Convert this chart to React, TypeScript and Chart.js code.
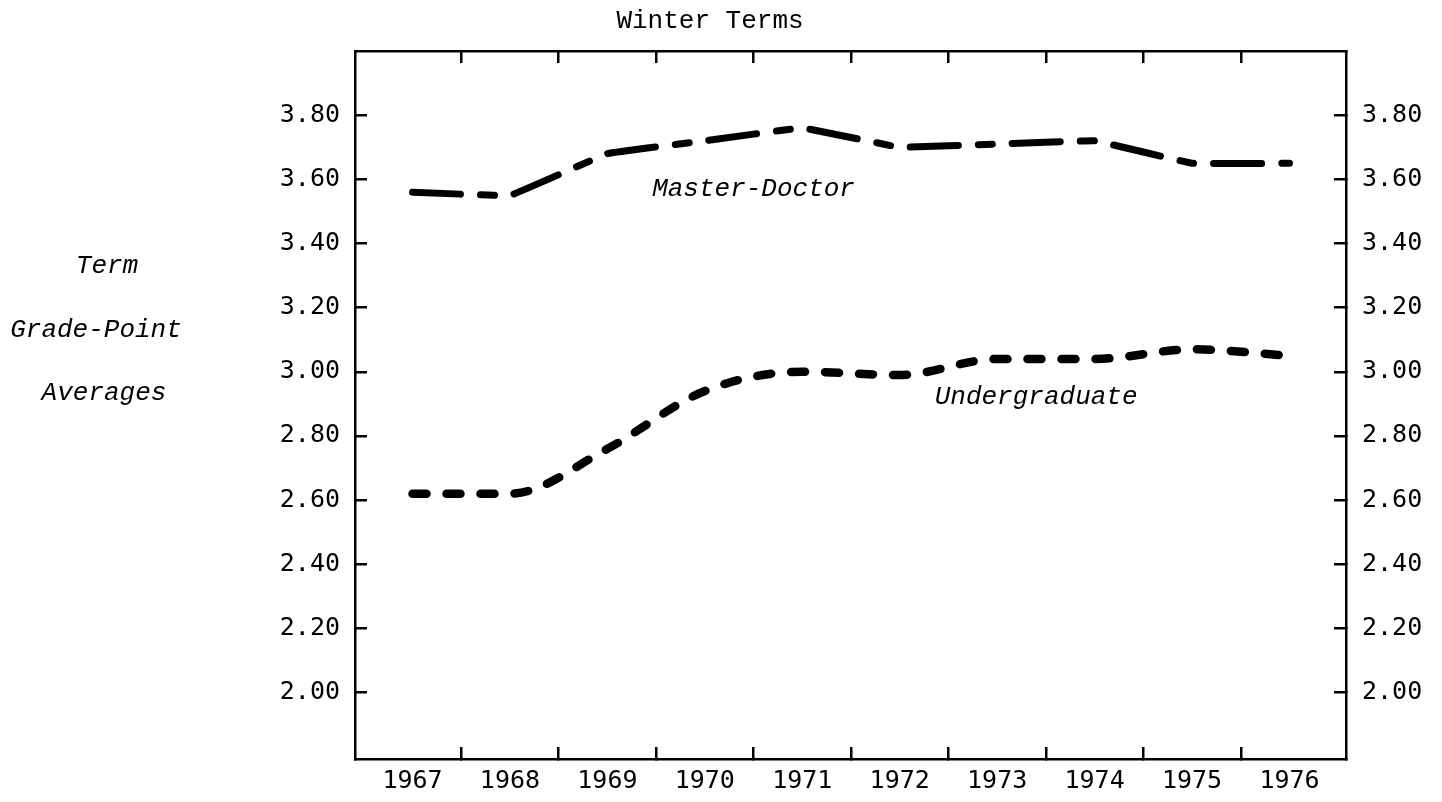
import React, { useEffect, useRef } from 'react';
import { Chart, registerables } from 'chart.js';

Chart.register(...registerables);

const YEARS = [1967, 1968, 1969, 1970, 1971, 1972, 1973, 1974, 1975, 1976];
const MASTER_DOCTOR = [3.56, 3.55, 3.68, 3.72, 3.76, 3.7, 3.71, 3.72, 3.65, 3.65];
const UNDERGRADUATE = [2.62, 2.62, 2.76, 2.94, 3.0, 2.99, 3.04, 3.04, 3.07, 3.05];
const Y_TICKS = [2.0, 2.2, 2.4, 2.6, 2.8, 3.0, 3.2, 3.4, 3.6, 3.8];
const X_DIVIDERS = [1967.5, 1968.5, 1969.5, 1970.5, 1971.5, 1972.5, 1973.5, 1974.5, 1975.5];
const TITLE = 'Winter Terms';
const Y_TITLE_LINES = ['Term', 'Grade-Point', 'Averages'];
const SERIES_NAMES = ['Master-Doctor', 'Undergraduate'];

const X_MIN = 1966.41;
const X_MAX = 1976.58;
const Y_MIN = 1.793;
const Y_MAX = 4.0;

const TICK_FONT = { family: '"DejaVu Sans Mono", monospace', size: 25 };
const TYPE_FONT = '26px "Liberation Mono", monospace';
const TYPE_ITALIC = 'italic 26px "Liberation Mono", monospace';

const isYear = (v: number) => Math.abs(v - Math.round(v)) < 1e-6;

const textPlugin = {
  id: 'typedText',
  afterDraw(chart: any) {
    const ctx = chart.ctx;
    const xs = chart.scales.x;
    const ys = chart.scales.y;
    ctx.save();
    ctx.fillStyle = '#000';
    ctx.textBaseline = 'alphabetic';
    ctx.textAlign = 'center';
    ctx.font = TYPE_FONT;
    ctx.fillText(TITLE, 710, 28);
    ctx.font = TYPE_ITALIC;
    const yTitleX = [107, 96, 104];
    const yTitleY = [273, 337, 400];
    Y_TITLE_LINES.forEach((t, i) => ctx.fillText(t, yTitleX[i], yTitleY[i]));
    ctx.fillText(SERIES_NAMES[0], xs.getPixelForValue(1970.5), ys.getPixelForValue(3.548));
    ctx.fillText(SERIES_NAMES[1], xs.getPixelForValue(1973.4), ys.getPixelForValue(2.9));
    ctx.restore();
  },
};

export default function App() {
  const ref = useRef<HTMLCanvasElement | null>(null);

  useEffect(() => {
    if (!ref.current) return;
    const gridCommon = {
      drawOnChartArea: false,
      drawTicks: true,
      tickLength: -12,
      lineWidth: 2.5,
    };
    const border = { display: true, color: '#000', width: 2.5 };
    const chart = new Chart(ref.current, {
      type: 'line',
      data: {
        datasets: [
          {
            label: SERIES_NAMES[0],
            data: YEARS.map((yr, i) => ({ x: yr, y: MASTER_DOCTOR[i] })),
            borderColor: '#000',
            borderWidth: 7,
            borderDash: [48, 20, 14, 20],
            borderCapStyle: 'round',
            borderJoinStyle: 'round',
            tension: 0.05,
            pointRadius: 0,
            fill: false,
            xAxisID: 'x',
            yAxisID: 'y',
          },
          {
            label: SERIES_NAMES[1],
            data: YEARS.map((yr, i) => ({ x: yr, y: UNDERGRADUATE[i] })),
            borderColor: '#000',
            borderWidth: 8.5,
            borderDash: [14, 20],
            borderCapStyle: 'round',
            borderJoinStyle: 'round',
            cubicInterpolationMode: 'monotone',
            pointRadius: 0,
            fill: false,
            xAxisID: 'x',
            yAxisID: 'y',
          },
        ],
      },
      options: {
        animation: false,
        responsive: false,
        devicePixelRatio: 1,
        layout: { padding: 0 },
        plugins: {
          legend: { display: false },
          tooltip: { enabled: false },
          title: { display: false },
        },
        scales: {
          x: {
            type: 'linear',
            position: 'bottom',
            min: X_MIN,
            max: X_MAX,
            afterBuildTicks: (s: any) => {
              s.ticks = [...YEARS, ...X_DIVIDERS].sort((a, b) => a - b).map((v) => ({ value: v }));
            },
            afterFit: (s: any) => {
              s.height = 38;
            },
            grid: {
              ...gridCommon,
              color: (c: any) => (c.tick && isYear(c.tick.value) ? 'rgba(0,0,0,0)' : '#000'),
            },
            border,
            ticks: {
              autoSkip: false,
              maxRotation: 0,
              minRotation: 0,
              padding: 19,
              color: '#000',
              font: TICK_FONT,
              callback: (v: any) => (isYear(Number(v)) ? String(Math.round(Number(v))) : ''),
            },
          },
          x2: {
            type: 'linear',
            position: 'top',
            min: X_MIN,
            max: X_MAX,
            afterBuildTicks: (s: any) => {
              s.ticks = X_DIVIDERS.map((v) => ({ value: v }));
            },
            afterFit: (s: any) => {
              s.height = 51;
            },
            grid: { ...gridCommon, color: '#000' },
            border,
            ticks: { autoSkip: false, maxRotation: 0, callback: () => '' },
          },
          y: {
            type: 'linear',
            position: 'left',
            min: Y_MIN,
            max: Y_MAX,
            afterBuildTicks: (s: any) => {
              s.ticks = Y_TICKS.map((v) => ({ value: v }));
            },
            afterFit: (s: any) => {
              s.width = 355;
            },
            grid: { ...gridCommon, color: '#000' },
            border,
            ticks: {
              padding: 27,
              color: '#000',
              font: TICK_FONT,
              callback: (v: any) => Number(v).toFixed(2),
            },
          },
          y2: {
            type: 'linear',
            position: 'right',
            min: Y_MIN,
            max: Y_MAX,
            afterBuildTicks: (s: any) => {
              s.ticks = Y_TICKS.map((v) => ({ value: v }));
            },
            afterFit: (s: any) => {
              s.width = 96;
            },
            grid: { ...gridCommon, color: '#000' },
            border,
            ticks: {
              padding: 28,
              color: '#000',
              font: TICK_FONT,
              callback: (v: any) => Number(v).toFixed(2),
            },
          },
        },
      } as any,
      plugins: [textPlugin],
    });
    return () => chart.destroy();
  }, []);

  return (
    <div style={{ position: 'absolute', left: 0, top: 0, width: 1442, height: 802, background: '#fff' }}>
      <canvas ref={ref} width={1442} height={802} style={{ width: 1442, height: 802, display: 'block' }} />
    </div>
  );
}
